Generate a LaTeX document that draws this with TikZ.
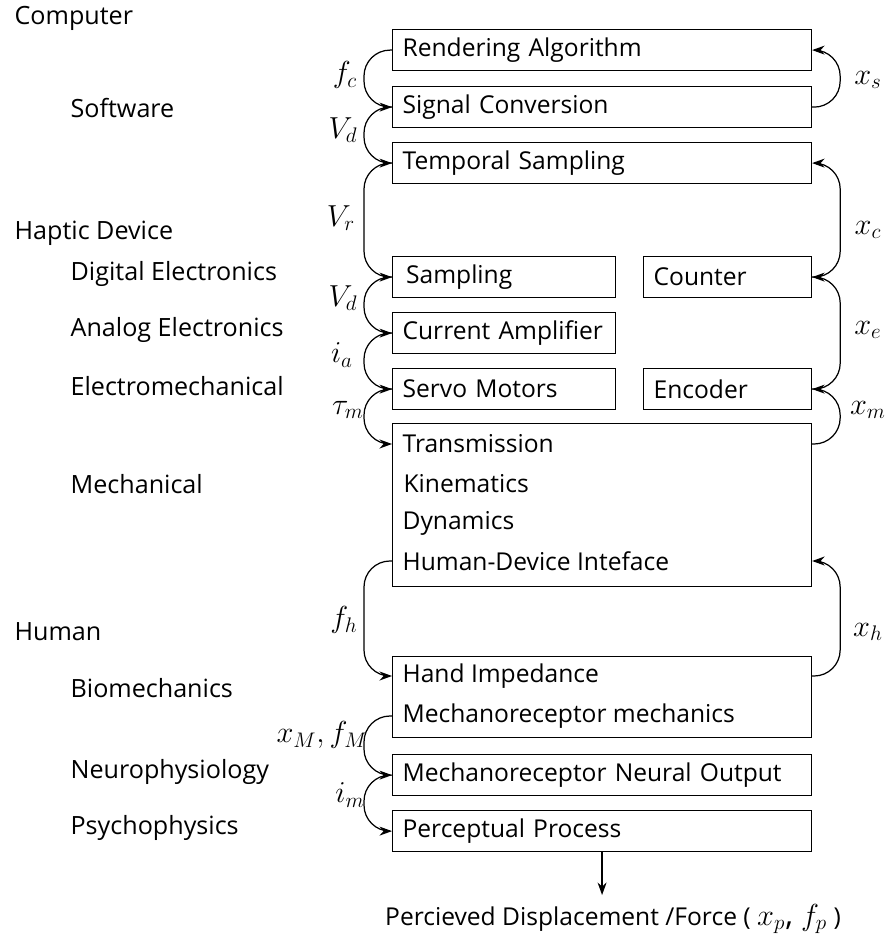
\documentclass[tikz,border=0pt]{standalone}
\usepackage{fontspec}
\setmainfont{Open Sans}
\usetikzlibrary{arrows.meta}

\begin{document}
\begin{tikzpicture}[x=0.02cm, y=-0.02cm, line width=0.7pt]
    % Stili
    \tikzstyle{wide}=[draw, anchor=north west, align=left, text width=7.98cm, inner xsep=0.2cm, minimum height=0.82cm, font=\fontsize{14}{16}\selectfont]
    \tikzstyle{narrow}=[wide, text width=4.06cm]
    \tikzstyle{small}=[wide, text width=2.96cm]
    \tikzstyle{line}=[anchor=west, inner sep=0pt, font=\fontsize{14}{16}\selectfont]
    \tikzstyle{level}=[anchor=west, inner sep=0pt, font=\fontsize{14.3}{16}\selectfont]
    \tikzstyle{sig}=[inner sep=0pt, font=\fontsize{18}{21}\selectfont]
    \tikzstyle{arc}=[-{Stealth[length=2.5mm, width=1.8mm]}, rounded corners=0.52cm]
    \useasboundingbox (0,0) rectangle (893,949);

    % Livelli a sinistra
    \node[level] (computer) at (14,18) {Computer};
    \node[level] (software) at (70,108) {Software};
    \node[level] (haptic) at (14,233) {Haptic Device};
    \node[level] (digital) at (70,274) {Digital Electronics};
    \node[level] (analog) at (70,330) {Analog Electronics};
    \node[level] (electro) at (70,386) {Electromechanical};
    \node[level] (mechanical) at (70,484) {Mechanical};
    \node[level] (human) at (14,632) {Human};
    \node[level] (biomech) at (70,688) {Biomechanics};
    \node[level] (neuro) at (70,772) {Neurophysiology};
    \node[level] (psycho) at (70,828) {Psychophysics};

    % Blocchi
    \node[wide] (rend) at (392,29) {Rendering Algorithm};
    \node[wide] (sigconv) at (392,86) {Signal Conversion};
    \node[wide] (tempsamp) at (392,142) {Temporal Sampling};
    \node[narrow] (sampling) at (392,256) {\hspace{2pt}Sampling};
    \node[small] (counter) at (643,256) {Counter};
    \node[narrow] (curamp) at (392,312) {Current Amplifier};
    \node[narrow] (servo) at (392,368) {Servo Motors};
    \node[small] (encoder) at (643,368) {Encoder};

    % Blocco meccanico
    \node[draw, anchor=north west, minimum width=8.38cm, minimum height=3.26cm] (mech) at (392,423) {};
    \node[line] (trans) at (402,444) {Transmission};
    \node[line] (kin) at (403,484) {Kinematics};
    \node[line] (dyn) at (402,523) {Dynamics};
    \node[line] (hdi) at (402,561) {Human-Device Inteface};

    % Blocchi umani
    \node[draw, anchor=north west, minimum width=8.38cm, minimum height=1.62cm] (hand) at (392,656) {};
    \node[line] (handimp) at (402,676) {Hand Impedance};
    \node[line] (mechmech) at (402,716) {Mechanoreceptor mechanics};
    \node[wide] (neural) at (392,754) {Mechanoreceptor Neural Output};
    \node[wide] (percept) at (392,810) {Perceptual Process};

    % Uscita
    \node[inner sep=0pt, font=\fontsize{14}{16}\selectfont] (result) at (613,919) {Percieved Displacement /Force ( {\fontsize{18}{21}\selectfont$x_{p}$, $f_{p}$} )};
    \draw[-{Stealth[length=2.5mm, width=1.8mm]}] (percept.south) -- (percept.south |- 0,895);

    % Frecce a sinistra
    \draw[arc] (rend.west) -- ++(-28,0) |- (sigconv.west);
    \draw[arc] (sigconv.west) -- ++(-28,0) |- (tempsamp.west);
    \draw[arc] (tempsamp.west) -- ++(-28,0) |- (sampling.west);
    \draw[arc] (sampling.west) -- ++(-28,0) |- (curamp.west);
    \draw[arc] (curamp.west) -- ++(-28,0) |- (servo.west);
    \draw[arc] (servo.west) -- ++(-28,0) |- (mech.west |- trans);
    \draw[arc] (mech.west |- hdi) -- ++(-28,0) |- (hand.west |- handimp);
    \draw[arc] (hand.west |- mechmech) -- ++(-28,0) |- (neural.west);
    \draw[arc] (neural.west) -- ++(-28,0) |- (percept.west);

    % Frecce a destra
    \draw[arc] (sigconv.east) -- ++(28,0) |- (rend.east);
    \draw[arc] (counter.east) -- ++(28,0) |- (tempsamp.east);
    \draw[arc] (encoder.east) -- ++(28,0) |- (counter.east);
    \draw[arc] (mech.east |- trans) -- ++(28,0) |- (encoder.east);
    \draw[arc] (hand.east |- handimp) -- ++(28,0) |- (mech.east |- hdi);

    % Segnali
    \node[sig] (fc) at (345,75) {$f_c$};
    \node[sig] (vd1) at (343,130) {$V_d$};
    \node[sig] (vr) at (341,218) {$V_r$};
    \node[sig] (vd2) at (343,298) {$V_d$};
    \node[sig] (ia) at (342,355) {$i_a$};
    \node[sig] (taum) at (348,410) {$\tau_m$};
    \node[sig] (fh) at (344,620) {$f_h$};
    \node[sig] (xmfm) at (322,735) {$x_{M}, f_{M}$};
    \node[sig] (im) at (350,795) {$i_m$};
    \node[sig] (xs) at (868,80) {$x_s$};
    \node[sig] (xc) at (868,230) {$x_c$};
    \node[sig] (xe) at (868,330) {$x_e$};
    \node[sig] (xm) at (868,410) {$x_m$};
    \node[sig] (xh) at (868,632) {$x_h$};
\end{tikzpicture}
\end{document}
